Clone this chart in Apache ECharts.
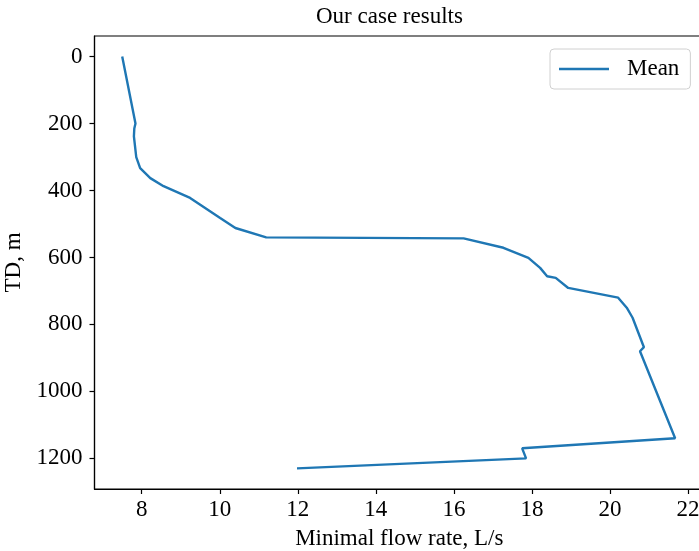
<!DOCTYPE html>
<html><head><meta charset="utf-8">
<script src="https://cdn.jsdelivr.net/npm/echarts@6/dist/echarts.min.js"></script>
<style>html,body{margin:0;padding:0;background:#fff}#c{width:699px;height:551px}</style>
</head><body><div id="c"></div>
<script>
const flowRate = [7.50, 7.84, 7.81, 7.80, 7.86, 7.96, 8.22, 8.56, 9.24, 10.01, 10.40, 11.19, 16.25, 17.27, 17.91, 18.21, 18.39, 18.61, 18.93, 20.21, 20.43, 20.58, 20.87, 20.77, 21.67, 17.75, 17.85, 11.98];
const depth = [0, 200, 215, 238, 300, 333, 363, 387, 422, 482, 512, 540, 543, 571, 601, 631, 656, 661, 691, 720, 750, 780, 868, 880, 1140, 1170, 1200, 1230];
const xTicks = [8, 10, 12, 14, 16, 18, 20, 22];
const yTicks = [0, 200, 400, 600, 800, 1000, 1200];
const seriesName = 'Mean';

const font = 'Liberation Serif';
const fs = 23;
const chart = echarts.init(document.getElementById('c'), null, {renderer: 'canvas'});
chart.setOption({
  animation: false,
  title: {text: 'Our case results', left: 316, top: 5, padding: 0,
    textStyle: {fontFamily: font, fontSize: fs, fontWeight: 'normal', color: '#000'}},
  legend: {
    left: 550, top: 49, padding: [8, 11, 8, 9],
    borderColor: '#d0d0d0', borderWidth: 1, borderRadius: 4,
    icon: 'rect', itemWidth: 50, itemHeight: 2.5,
    textStyle: {fontFamily: font, fontSize: fs, color: '#000', padding: [0, 0, 0, 13], lineHeight: 24},
    data: [seriesName]
  },
  grid: {left: 94.5, right: -5, top: 36, bottom: 62, outerBoundsMode: 'none', containLabel: false,
    show: true, borderColor: '#000', borderWidth: 1.2},
  xAxis: {
    type: 'value', min: 6.79, max: 22.41,
    name: 'Minimal flow rate, L/s', nameLocation: 'middle', nameGap: 38,
    nameTextStyle: {fontFamily: font, fontSize: fs, color: '#000'},
    axisLine: {show: true, onZero: false, lineStyle: {color: '#000', width: 1.2}},
    axisTick: {show: true, length: 5, customValues: xTicks, lineStyle: {color: '#000', width: 1.2}},
    axisLabel: {customValues: xTicks, fontFamily: font, fontSize: fs, color: '#000', margin: 9},
    splitLine: {show: false}
  },
  yAxis: {
    type: 'value', inverse: true, min: -61.5, max: 1291.5,
    name: 'TD, m', nameLocation: 'middle', nameGap: 67,
    nameTextStyle: {fontFamily: font, fontSize: fs, color: '#000'},
    axisLine: {show: true, onZero: false, lineStyle: {color: '#000', width: 1.2}},
    axisTick: {show: true, length: 5, customValues: yTicks, lineStyle: {color: '#000', width: 1.2}},
    axisLabel: {customValues: yTicks, formatter: v => String(v), fontFamily: font, fontSize: fs, color: '#000', margin: 12},
    splitLine: {show: false}
  },
  series: [{
    name: seriesName, type: 'line', symbol: 'none',
    data: flowRate.map((v, i) => [v, depth[i]]),
    lineStyle: {color: '#1f77b4', width: 2.4},
    itemStyle: {color: '#1f77b4'}
  }]
});
</script></body></html>
